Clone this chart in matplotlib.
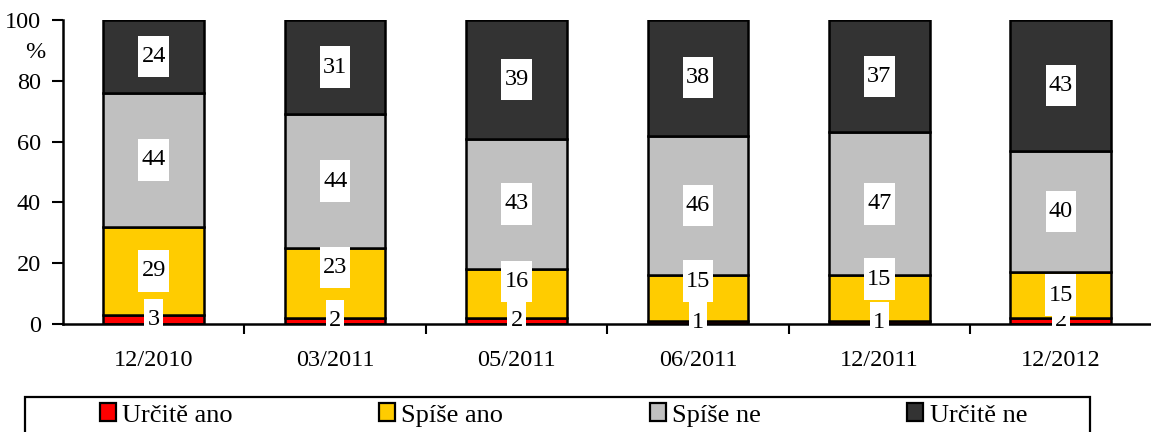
import matplotlib
matplotlib.use("Agg")
import matplotlib.pyplot as plt
from matplotlib.path import Path
from matplotlib.patches import Patch, Rectangle
import numpy as np

categories = ["12/2010", "03/2011", "05/2011", "06/2011", "12/2011", "12/2012"]
series_names = ["Určitě ano", "Spíše ano", "Spíše ne", "Určitě ne"]
urcite_ano = [3, 2, 2, 1, 1, 2]
spise_ano = [29, 23, 16, 15, 15, 15]
spise_ne = [44, 44, 43, 46, 47, 40]
urcite_ne = [24, 31, 39, 38, 37, 43]
colors = ["#FF0000", "#FFCC00", "#C0C0C0", "#333333"]
# manual vertical nudges (data units) of value labels, as in the original
label_shift = [
    [0, 0, 0, 0, 0, 0],
    [0, 5, 4, 5.6, 6.3, 0],
    [0, 0, 0, 0, 0, 0],
    [0, 0, 0, 0, 0, 0],
]

plt.rcParams["font.family"] = ["Liberation Serif", "DejaVu Serif"]
FS = 17.5
LFS = 19

W, H = 1151, 432
fig = plt.figure(figsize=(W / 100, H / 100), dpi=100)
ax = fig.add_axes([63 / W, 1 - 324 / H, (1151.5 - 63) / W, (324 - 20) / H])

series = [urcite_ano, spise_ano, spise_ne, urcite_ne]
x = np.arange(len(categories))
bottom = np.zeros(len(categories))


def tallbox(x0, y0, width, height, mutation_size):
    px = 0.13 * mutation_size
    py = 0.42 * mutation_size
    x0 -= px
    x1 = x0 + width + 2 * px
    y0 -= py
    y1 = y0 + height + 2 * py
    return Path([(x0, y0), (x1, y0), (x1, y1), (x0, y1), (x0, y0)], closed=True)


for si, vals in enumerate(series):
    vals = np.array(vals, dtype=float)
    ax.bar(x, vals, bottom=bottom, width=0.555, color=colors[si],
           edgecolor="black", linewidth=1.8, zorder=2)
    for i, v in enumerate(vals):
        y = bottom[i] + v / 2 + label_shift[si][i]
        ax.text(x[i], y, f"{int(v)}", ha="center", va="center", fontsize=FS,
                color="black", zorder=5, clip_on=False,
                bbox=dict(boxstyle=tallbox, facecolor="white", edgecolor="none"))
    bottom += vals

ax.set_xlim(-0.5, len(categories) - 0.5)
ax.set_ylim(0, 100)
ax.set_yticks([0, 20, 40, 60, 80, 100])
ax.tick_params(axis="y", direction="out", length=8, width=1.5, labelsize=FS, pad=8)
ax.set_xticks(x)
ax.set_xticklabels(categories)
ax.tick_params(axis="x", which="major", length=0, labelsize=FS, pad=19)
ax.set_xticks(np.arange(0.5, len(categories) - 0.5, 1), minor=True)
ax.tick_params(axis="x", which="minor", direction="out", length=7, width=1.5)

for s in ["top", "right"]:
    ax.spines[s].set_visible(False)
for s in ["left", "bottom"]:
    ax.spines[s].set_linewidth(1.8)
    ax.spines[s].set_zorder(3)

fig.text(35 / W, 1 - 52 / H, "%", ha="center", va="center", fontsize=FS)

# legend frame (runs past the bottom edge of the picture, as in the original)
fig.patches.append(Rectangle((25 / W, 1 - 450 / H), (1090 - 25) / W, (450 - 397) / H,
                             transform=fig.transFigure, facecolor="white",
                             edgecolor="black", linewidth=1.6, zorder=0))

handles = [Patch(facecolor=c, edgecolor="black", linewidth=1.6) for c in colors]
leg = fig.legend(handles, series_names, loc="center left", ncol=4,
                 bbox_to_anchor=(100 / W, 1 - 415 / H),
                 fontsize=LFS, frameon=False,
                 handlelength=0.61, handleheight=0.65, handletextpad=0.23,
                 borderpad=0, borderaxespad=0, columnspacing=5.55)

fig.savefig("out.png", dpi=100)
